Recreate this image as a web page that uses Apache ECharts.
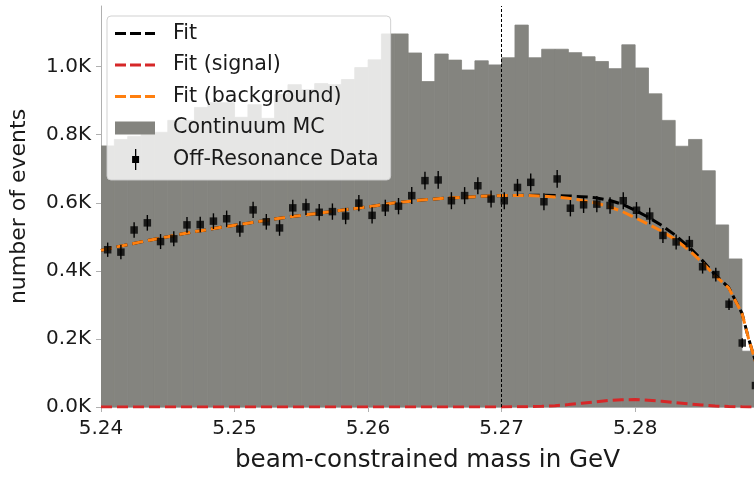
<!DOCTYPE html>
<html>
<head>
<meta charset="utf-8">
<script src="https://cdn.jsdelivr.net/npm/echarts@6/dist/echarts.min.js"></script>
<style>
  html, body { margin: 0; padding: 0; background: #fff; }
  #chart { width: 754px; height: 478px; }
</style>
</head>
<body>
<div id="chart"></div>
<script>
// ---- Continuum MC histogram (1 MeV bins, left edges) ----
const mcBinLow = [5.240, 5.241, 5.242, 5.243, 5.244, 5.245, 5.246, 5.247, 5.248, 5.249,
                  5.250, 5.251, 5.252, 5.253, 5.254, 5.255, 5.256, 5.257, 5.258, 5.259,
                  5.260, 5.261, 5.262, 5.263, 5.264, 5.265, 5.266, 5.267, 5.268, 5.269,
                  5.270, 5.271, 5.272, 5.273, 5.274, 5.275, 5.276, 5.277, 5.278, 5.279,
                  5.280, 5.281, 5.282, 5.283, 5.284, 5.285, 5.286, 5.287, 5.288];
const mcBinWidth = 0.001;
const mcCounts = [767, 786, 795, 801, 807, 842, 842, 880, 894, 894,
                  851, 888, 848, 918, 947, 932, 950, 947, 962, 997,
                  1020, 1096, 1096, 1040, 956, 1037, 1019, 990, 1017, 1005,
                  1026, 1122, 1026, 1051, 1051, 1041, 1029, 1015, 994, 1064,
                  996, 920, 842, 766, 786, 694, 535, 435, 164];

// ---- Off-resonance data ----
const dataMass = [5.24050, 5.24149, 5.24248, 5.24347, 5.24446, 5.24545, 5.24644, 5.24743, 5.24842, 5.24941,
                  5.25040, 5.25139, 5.25238, 5.25337, 5.25436, 5.25535, 5.25634, 5.25733, 5.25832, 5.25931,
                  5.26030, 5.26129, 5.26228, 5.26327, 5.26426, 5.26525, 5.26624, 5.26723, 5.26822, 5.26921,
                  5.27020, 5.27119, 5.27218, 5.27317, 5.27416, 5.27515, 5.27614, 5.27713, 5.27812, 5.27911,
                  5.28010, 5.28109, 5.28208, 5.28307, 5.28406, 5.28505, 5.28604, 5.28703, 5.28802, 5.28901];
const dataCounts = [462, 455, 520, 541, 486, 494, 535, 536, 546, 553,
                    523, 579, 544, 526, 585, 588, 572, 574, 561, 599,
                    563, 585, 590, 621, 665, 667, 606, 621, 650, 611,
                    606, 645, 660, 603, 670, 584, 594, 596, 592, 606,
                    578, 561, 504, 485, 480, 412, 389, 302, 188, 63];
const dataErrors = [21, 21, 23, 23, 22, 22, 23, 23, 23, 24,
                    23, 24, 23, 23, 24, 24, 24, 24, 24, 24,
                    24, 24, 24, 25, 26, 26, 25, 25, 25, 25,
                    25, 25, 26, 25, 26, 24, 24, 24, 24, 25,
                    24, 24, 22, 22, 22, 20, 20, 17, 14, 8];

// ---- Fit curves ----
const fitMass = [5.240, 5.241, 5.242, 5.243, 5.244, 5.245, 5.246, 5.247, 5.248, 5.249,
                 5.250, 5.251, 5.252, 5.253, 5.254, 5.255, 5.256, 5.257, 5.258, 5.259,
                 5.260, 5.261, 5.262, 5.263, 5.264, 5.265, 5.266, 5.267, 5.268, 5.269,
                 5.270, 5.271, 5.272, 5.273, 5.274, 5.275, 5.276, 5.277, 5.278, 5.279,
                 5.280, 5.281, 5.282, 5.283, 5.284, 5.285, 5.286, 5.287, 5.288, 5.2885, 5.289];
const fitBackground = [460, 469, 477, 485, 493, 500, 508, 515, 521, 528,
                       534, 540, 546, 552, 558, 563, 568, 573, 578, 583,
                       588, 594, 600, 604, 608, 611, 614, 616, 618, 620,
                       621, 621, 621, 620, 617, 613, 607, 600, 589, 575,
                       556, 537, 516, 492, 462, 426, 385, 350, 275, 200, 135];
const fitSignal = [0, 0, 0, 0, 0, 0, 0, 0, 0, 0,
                   0, 0, 0, 0, 0, 0, 0, 0, 0, 0,
                   0, 0, 0, 0, 0, 0, 0, 0, 0, 0,
                   0, 0.5, 1, 2, 4, 7, 11, 15, 19, 21,
                   22, 20, 17, 13, 9, 6, 3, 1.5, 0.5, 0.3, 0.1];
const fitTotal = [460, 469, 477, 485, 493, 500, 508, 515, 521, 528,
                  534, 540, 546, 552, 558, 563, 568, 573, 578, 583,
                  588, 594, 600, 604, 608, 611, 614, 616, 618, 620,
                  621, 621.5, 622, 622, 621, 620, 618, 615, 608, 596,
                  578, 557, 533, 505, 471, 432, 388, 351.5, 275.5, 200.3, 135.1];

// ---- Axes ----
const xMin = 5.24, xMax = 5.2889, xStep = 0.01;
const yMin = 0, yMax = 1178, yStep = 200;
const markMass = 5.27;

const FONT = 'DejaVu Sans';
const TXT = '#1a1a1a';
const SPINE = '#b0b0b0';
const MC_COLOR = '#84847f';

// legend icons (40 x 21 boxes; tiny corner anchors fix the bounding box)
const ANCHORS = 'M0,0h0.01v0.01h-0.01z M39.99,20.99h0.01v0.01h-0.01z ';
const ICON_DASH = 'path://' + ANCHORS + 'M0,9h11v3h-11z M15,9h11v3h-11z M30,9h10v3h-10z';
const ICON_RECT = 'path://' + ANCHORS + 'M0,4h40v13h-40z';
const ICON_ERR  = 'path://' + ANCHORS + 'M20,0h1.3v21h-1.3z M17.1,7h7v7h-7z';

const chart = echarts.init(document.getElementById('chart'), null, { renderer: 'canvas' });

const pair = (xs, ys) => xs.map((x, i) => [x, ys[i]]);

const option = {
  animation: false,
  grid: { left: 96.5, top: 6, right: 0, bottom: 68.5, containLabel: false },
  legend: {
    orient: 'vertical',
    left: 107, top: 16,
    padding: [7, 12, 10, 8],
    itemWidth: 40, itemHeight: 21, itemGap: 10.5,
    backgroundColor: 'rgba(255,255,255,0.8)',
    borderColor: 'rgba(204,204,204,0.9)', borderWidth: 1, borderRadius: 4,
    textStyle: { fontFamily: FONT, fontSize: 20.6, color: TXT, padding: [0, 0, 0, 13] },
    data: [
      { name: 'Fit', icon: ICON_DASH },
      { name: 'Fit (signal)', icon: ICON_DASH },
      { name: 'Fit (background)', icon: ICON_DASH },
      { name: 'Continuum MC', icon: ICON_RECT },
      { name: 'Off-Resonance Data', icon: ICON_ERR }
    ]
  },
  xAxis: [{
    type: 'value', min: xMin, max: xMax, interval: xStep,
    name: 'beam-constrained mass in GeV', nameLocation: 'middle', nameGap: 41,
    nameTextStyle: { fontFamily: FONT, fontSize: 24.6, color: TXT },
    axisLine: { show: true, onZero: false, lineStyle: { color: SPINE, width: 1 } },
    axisTick: { show: true, inside: false, length: 5, lineStyle: { color: SPINE } },
    axisLabel: { fontFamily: FONT, fontSize: 20, color: TXT, margin: 12, showMaxLabel: false,
                 formatter: v => v.toFixed(2) },
    splitLine: { show: false }
  }, {
    type: 'value', position: 'top', min: xMin, max: xMax,
    axisLine: { show: true, lineStyle: { color: SPINE, width: 1 } },
    axisTick: { show: false }, axisLabel: { show: false }, splitLine: { show: false }
  }],
  yAxis: {
    type: 'value', min: yMin, max: yMax, interval: yStep,
    name: 'number of events', nameLocation: 'middle', nameGap: 71, nameRotate: 90,
    nameTextStyle: { fontFamily: FONT, fontSize: 22, color: TXT },
    axisLine: { show: true, lineStyle: { color: SPINE, width: 1 } },
    axisTick: { show: true, inside: false, length: 5, lineStyle: { color: SPINE } },
    axisLabel: { fontFamily: FONT, fontSize: 20, color: TXT, margin: 10, showMaxLabel: false,
                 formatter: v => (Math.abs(v % yStep) < 1e-6 ? (v / 1000).toFixed(1) + 'K' : '') },
    splitLine: { show: false }
  },
  series: [
    {
      name: 'Continuum MC', type: 'custom', z: 1, clip: true,
      itemStyle: { color: MC_COLOR },
      data: mcBinLow.map((lo, i) => [lo, lo + mcBinWidth, mcCounts[i]]),
      encode: { x: [0, 1], y: 2 },
      renderItem: (params, api) => {
        const p1 = api.coord([api.value(0), api.value(2)]);
        const p2 = api.coord([api.value(1), 0]);
        return {
          type: 'rect',
          shape: { x: p1[0], y: p1[1], width: p2[0] - p1[0], height: p2[1] - p1[1] },
          style: { fill: MC_COLOR, stroke: MC_COLOR, lineWidth: 0.8 }
        };
      }
    },
    {
      name: 'Fit (signal)', type: 'line', z: 3, symbol: 'none', showSymbol: false,
      data: pair(fitMass, fitSignal), clip: true,
      itemStyle: { color: '#d62728' },
      lineStyle: { color: '#d62728', width: 3, type: [11, 5] }
    },
    {
      name: 'Fit', type: 'line', z: 3, symbol: 'none', showSymbol: false,
      data: pair(fitMass, fitTotal), clip: true,
      itemStyle: { color: '#000000' },
      lineStyle: { color: '#000000', width: 3, type: [11, 5] }
    },
    {
      name: 'Fit (background)', type: 'line', z: 4, symbol: 'none', showSymbol: false,
      data: pair(fitMass, fitBackground), clip: true,
      itemStyle: { color: '#ff7f0e' },
      lineStyle: { color: '#ff7f0e', width: 3, type: [11, 5] }
    },
    {
      name: 'Off-Resonance Data', type: 'custom', z: 5, clip: false,
      itemStyle: { color: '#000' },
      data: dataMass.map((m, i) => [m, dataCounts[i], dataErrors[i]]),
      encode: { x: 0, y: 1 },
      renderItem: (params, api) => {
        const x = api.value(0), y = api.value(1), e = api.value(2);
        const lo = api.coord([x, y - e]);
        const hi = api.coord([x, y + e]);
        return {
          type: 'line',
          shape: { x1: lo[0], y1: lo[1], x2: hi[0], y2: hi[1] },
          style: { stroke: '#000', lineWidth: 1.4 }
        };
      }
    },
    {
      name: 'Off-Resonance Data', type: 'scatter', z: 6, clip: false,
      symbol: 'square', symbolSize: 7.5,
      itemStyle: { color: '#000' },
      data: pair(dataMass, dataCounts),
      markLine: {
        silent: true, symbol: ['none', 'none'], label: { show: false },
        lineStyle: { color: '#000', width: 1, type: [3, 2] },
        data: [{ xAxis: markMass }]
      }
    }
  ]
};
chart.setOption(option);
</script>
</body>
</html>
